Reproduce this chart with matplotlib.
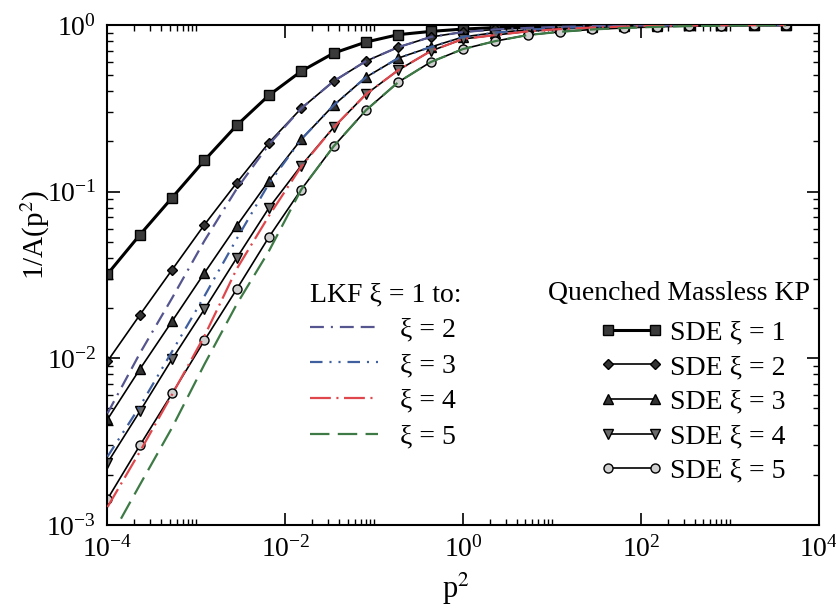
import numpy as np
import matplotlib
matplotlib.use("Agg")
import matplotlib.pyplot as plt
from matplotlib.ticker import LogLocator, NullFormatter

plt.rcParams['font.family'] = ['Liberation Serif', 'DejaVu Serif']
plt.rcParams['mathtext.fontset'] = 'stix'
plt.rcParams['axes.unicode_minus'] = False
plt.rcParams['lines.scale_dashes'] = False

# momentum grid (p^2)
p2 = [1.0e-4, 2.31e-4, 5.33e-4, 1.23e-3, 2.84e-3, 6.55e-3, 1.51e-2, 3.49e-2,
      8.06e-2, 0.186, 0.430, 0.991, 2.29, 5.28, 12.2, 28.2, 65.0, 150.0,
      346.0, 800.0, 1845.0, 4260.0]

# SDE solutions, 1/A(p^2)
sde1 = [0.032, 0.055, 0.092, 0.154, 0.25, 0.379, 0.528, 0.678, 0.79, 0.875, 0.915,
        0.945, 0.965, 0.978, 0.987, 0.992, 0.995, 0.997, 0.998, 0.999, 1.0, 1.0]
sde2 = [0.0096, 0.0182, 0.034, 0.0633, 0.113, 0.197, 0.316, 0.46, 0.607, 0.736, 0.847,
        0.907, 0.94, 0.96, 0.975, 0.985, 0.99, 0.994, 0.997, 0.998, 0.999, 1.0]
sde3 = [0.0043, 0.0086, 0.0167, 0.0325, 0.0624, 0.1165, 0.206, 0.33, 0.486, 0.633, 0.737,
        0.847, 0.90, 0.935, 0.96, 0.975, 0.985, 0.99, 0.995, 0.997, 0.998, 0.999]
sde4 = [0.00236, 0.0048, 0.0099, 0.0197, 0.040, 0.080, 0.1435, 0.243, 0.384, 0.536, 0.697,
        0.824, 0.87, 0.915, 0.945, 0.965, 0.978, 0.987, 0.993, 0.996, 0.998, 0.999]
sde5 = [0.00143, 0.003, 0.00615, 0.0128, 0.026, 0.0535, 0.103, 0.187, 0.308, 0.454, 0.599,
        0.717, 0.80, 0.87, 0.91, 0.94, 0.96, 0.975, 0.985, 0.99, 0.995, 0.997]

# LKF transform of xi = 1 solution
lkf2 = [0.00467, 0.0107, 0.023, 0.0507, 0.104, 0.192, 0.316, 0.46, 0.607, 0.736, 0.847,
        0.907, 0.94, 0.96, 0.975, 0.985, 0.99, 0.994, 0.997, 0.998, 0.999, 1.0]
lkf3 = [0.00257, 0.00514, 0.011, 0.0236, 0.0521, 0.112, 0.206, 0.33, 0.486, 0.633, 0.737,
        0.847, 0.90, 0.935, 0.96, 0.975, 0.985, 0.99, 0.995, 0.997, 0.998, 0.999]
lkf4 = [0.00128, 0.00275, 0.00607, 0.0136, 0.0344, 0.0717, 0.1415, 0.243, 0.384, 0.536, 0.697,
        0.824, 0.87, 0.915, 0.945, 0.965, 0.978, 0.987, 0.993, 0.996, 0.998, 0.999]
lkf5 = [0.00078, 0.00174, 0.00384, 0.0092, 0.0211, 0.0441, 0.103, 0.187, 0.308, 0.454, 0.599,
        0.717, 0.80, 0.87, 0.91, 0.94, 0.96, 0.975, 0.985, 0.99, 0.995, 0.997]

fig = plt.figure(figsize=(8.37, 6.11), dpi=100)
ax = fig.add_axes([0.1284, 0.1408, 0.8501, 0.8183])

sde_lines = []
sde_styles = [
    (sde1, 's', 6.5, '#3a3a3a', 2.2, 'SDE ξ = 1'),
    (sde2, 'D', 5.0, '#333333', 1.2, 'SDE ξ = 2'),
    (sde3, '^', 6.5, '#333333', 1.2, 'SDE ξ = 3'),
    (sde4, 'v', 6.5, '#6a6a6a', 1.2, 'SDE ξ = 4'),
    (sde5, 'o', 6.5, '#cfcfcf', 1.2, 'SDE ξ = 5'),
]
for vals, mk, ms, fc, lw, lab in sde_styles:
    ln, = ax.plot(p2, vals, color='black', lw=lw, marker=mk, ms=ms,
                  mfc=fc, mec='black', mew=1.0, label=lab, zorder=2)
    sde_lines.append(ln)

lkf_lines = []
lkf_styles = [
    (lkf2, '#55558f', (10, 5, 1.5, 5, 10, 5, 10, 5), 'ξ = 2'),
    (lkf3, '#3f5f9f', (9, 5, 1.5, 5, 1.5, 5), 'ξ = 3'),
    (lkf4, '#e0474c', (15, 4, 1.5, 4), 'ξ = 4'),
    (lkf5, '#3d7a45', (14, 6), 'ξ = 5'),
]
for vals, col, dash, lab in lkf_styles:
    ln, = ax.plot(p2, vals, color=col, lw=1.6, dashes=dash, label=lab, zorder=3)
    lkf_lines.append(ln)

ax.set_xscale('log')
ax.set_yscale('log')
ax.set_xlim(1e-4, 1e4)
ax.set_ylim(1e-3, 1)

ax.xaxis.set_major_locator(LogLocator(base=100, numticks=10))
ax.xaxis.set_minor_locator(LogLocator(base=100, subs=np.arange(2, 11), numticks=10))
ax.xaxis.set_minor_formatter(NullFormatter())
ax.yaxis.set_major_locator(LogLocator(base=10, numticks=10))
ax.yaxis.set_minor_locator(LogLocator(base=10, subs=np.arange(2, 10), numticks=10))
ax.yaxis.set_minor_formatter(NullFormatter())

ax.tick_params(which='both', direction='in', top=True, right=True, labelsize=20)
ax.tick_params(which='major', length=9, width=1.2, pad=8)
ax.tick_params(which='minor', length=4.5, width=1.0)
for sp in ax.spines.values():
    sp.set_linewidth(1.5)

ax.set_xlabel('p$^2$', fontsize=22)
ax.xaxis.set_label_coords(0.49, -0.092)
ax.set_ylabel('1/A(p$^2$)', fontsize=21)
ax.yaxis.set_label_coords(-0.078, 0.58)

W, H = 837.0, 611.0
fig.text(310 / W, 1 - 295 / H, 'LKF ξ = 1 to:', fontsize=20, va='center', ha='left')
fig.text(548 / W, 1 - 293 / H, 'Quenched Massless KP', fontsize=20, va='center', ha='left')

leg1 = ax.legend(handles=lkf_lines, loc='upper left', bbox_to_anchor=(310 / W, 1 - 317 / H),
                 bbox_transform=fig.transFigure, frameon=False, fontsize=20,
                 handlelength=2.45, handletextpad=0.8, labelspacing=0.37, borderpad=0,
                 borderaxespad=0)
ax.add_artist(leg1)
ax.legend(handles=sde_lines, loc='upper left', bbox_to_anchor=(600 / W, 1 - 320 / H),
          bbox_transform=fig.transFigure, frameon=False, fontsize=20, numpoints=2,
          handlelength=2.27, handletextpad=0.25, labelspacing=0.33, borderpad=0,
          borderaxespad=0)

fig.savefig('out.png', dpi=100)
